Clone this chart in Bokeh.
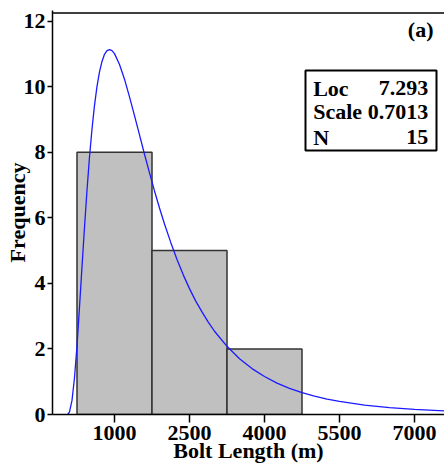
from bokeh.plotting import figure
from bokeh.models import Range1d, FixedTicker, Span, BoxAnnotation, Label
from bokeh.embed import file_html
from bokeh.resources import INLINE

# Histogram data
bin_left = [250, 1750, 3250]
bin_right = [1750, 3250, 4750]
counts = [8, 5, 2]

# Fitted lognormal curve
curve_x = [50, 75, 100, 150, 200, 250, 300, 350, 400, 450, 500, 550, 600, 650,
           700, 750, 800, 850, 900, 950, 1000, 1100, 1200, 1300, 1400, 1500,
           1600, 1700, 1800, 1900, 2000, 2125, 2250, 2375, 2500, 2625, 2750,
           2875, 3000, 3250, 3500, 3750, 4000, 4250, 4500, 4750, 5000, 5250,
           5500, 6000, 6500, 7000, 7600]
curve_y = [0.0, 0.02, 0.08, 0.43, 1.12, 2.10, 3.28, 4.51, 5.71, 6.84, 7.86,
           8.71, 9.43, 10.01, 10.45, 10.77, 10.99, 11.10, 11.13, 11.10, 11.01,
           10.68, 10.23, 9.69, 9.12, 8.53, 7.94, 7.37, 6.82, 6.30, 5.81, 5.25,
           4.73, 4.26, 3.84, 3.46, 3.13, 2.82, 2.54, 2.08, 1.70, 1.40, 1.16,
           0.958, 0.80, 0.665, 0.56, 0.469, 0.40, 0.285, 0.208, 0.154, 0.108]

x_ticks = [1000, 2500, 4000, 5500, 7000]
y_ticks = [0, 2, 4, 6, 8, 10, 12]

x_title = "Bolt Length (m)"
y_title = "Frequency"
stats_names = ["Loc", "Scale", "N"]
stats_values = ["7.293", "0.7013", "15"]
panel_tag = "(a)"

FONT = "Liberation Serif"
FS = "22px"

p = figure(width=444, height=471, output_backend="svg", toolbar_location=None,
           x_range=Range1d(-240, 7600), y_range=Range1d(0, 12.325),
           min_border_left=52, min_border_right=0, min_border_top=10,
           min_border_bottom=57)
p.outline_line_color = None
p.grid.visible = False
p.background_fill_color = "white"

p.quad(left=bin_left, right=bin_right, bottom=0, top=counts,
       fill_color="#c0c0c0", line_color="#333333", line_width=1.5)
p.line(curve_x, curve_y, line_color="#1a1aff", line_width=1.3)

for ax in (p.xaxis[0], p.yaxis[0]):
    ax.axis_line_color = "black"
    ax.axis_line_width = 1.5
    ax.major_tick_line_color = "black"
    ax.major_tick_line_width = 1.5
    ax.minor_tick_line_color = None
    ax.major_tick_in = 0
    ax.major_label_text_font = FONT
    ax.major_label_text_font_style = "bold"
    ax.major_label_text_font_size = FS
    ax.major_label_text_color = "black"
    ax.axis_label_text_font = FONT
    ax.axis_label_text_font_style = "bold"
    ax.axis_label_text_font_size = FS
    ax.axis_label_text_color = "black"

p.xaxis.ticker = FixedTicker(ticks=x_ticks)
p.yaxis.ticker = FixedTicker(ticks=y_ticks)
p.xaxis.major_tick_out = 8
p.yaxis.major_tick_out = 5
p.xaxis.major_label_standoff = 3
p.yaxis.major_label_standoff = 2
p.xaxis.axis_label = x_title
p.yaxis.axis_label = y_title
p.xaxis.axis_label_standoff = -5
p.yaxis.axis_label_standoff = -9

p.add_layout(Span(location=12.25, dimension="width", line_color="black", line_width=1.5))

p.add_layout(BoxAnnotation(left=4820, right=7440, bottom=8.054, top=10.494,
                           fill_color="white", fill_alpha=1.0,
                           line_color="black", line_alpha=1.0, line_width=2))

rows_y = [9.95, 9.24, 8.46]
for name, val, yy in zip(stats_names, stats_values, rows_y):
    p.add_layout(Label(x=4974, y=yy, text=name, text_font=FONT, text_font_style="bold",
                       text_font_size=FS, text_baseline="alphabetic", text_align="left",
                       text_color="black"))
    p.add_layout(Label(x=7274, y=yy, text=val, text_font=FONT, text_font_style="bold",
                       text_font_size=FS, text_baseline="alphabetic", text_align="right",
                       text_color="black"))

p.add_layout(Label(x=7380, y=11.74, text=panel_tag, text_font=FONT, text_font_style="bold",
                   text_font_size=FS, text_baseline="alphabetic", text_align="right",
                   text_color="black"))

open("out.html", "w").write(file_html(p, INLINE))
